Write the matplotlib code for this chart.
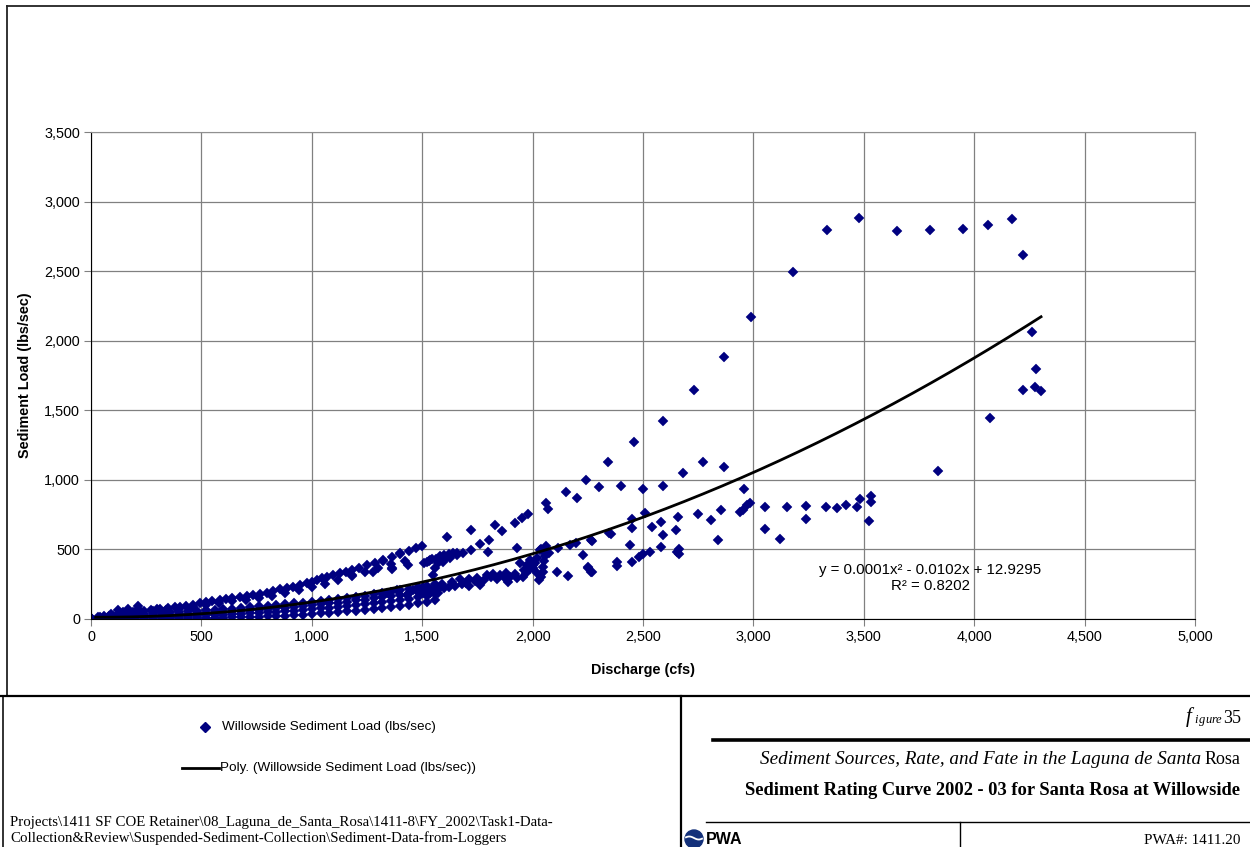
#!/usr/bin/env python
# -*- coding: utf-8 -*-

import numpy as np
import matplotlib
matplotlib.use('Agg')
import matplotlib.pyplot as plt
import matplotlib.ticker as ticker
from matplotlib.lines import Line2D
from matplotlib.patches import Ellipse

# dense recession band, read at fixed discharges (cfs) with 4 load levels (lbs/sec)
q_band = [0, 40, 80, 120, 160, 200, 240, 280, 320, 360, 400, 440, 480, 520, 560,
          600, 640, 680, 720, 760, 800, 840, 880, 920, 960, 1000, 1040, 1080, 1120,
          1160, 1200, 1240, 1280, 1320, 1360, 1400, 1440, 1480, 1520, 1560]
load_band_a = [0, 1, 2, 2, 3, 3, 4, 4, 5, 6, 6, 7, 7, 8, 9, 10, 11, 13, 14, 16, 18,
               21, 24, 28, 31, 35, 40, 45, 50, 56, 61, 66, 73, 80, 88, 96, 104, 113, 123, 133]
load_band_b = [3, 5, 7, 9, 10, 11, 13, 14, 16, 17, 19, 21, 23, 26, 28, 31, 34, 37, 41,
               44, 48, 52, 57, 61, 65, 70, 76, 81, 87, 93, 100, 106, 114, 121, 129, 138,
               147, 156, 166, 177]
load_band_c = [6, 10, 13, 16, 19, 22, 24, 27, 29, 32, 34, 37, 40, 43, 47, 50, 54, 58,
               62, 67, 72, 77, 82, 88, 93, 99, 105, 112, 118, 125, 133, 140, 148, 157,
               166, 176, 186, 196, 207, 219]
load_band_d = [10, 16, 22, 27, 31, 35, 38, 41, 44, 47, 50, 54, 58, 62, 66, 71, 75, 80,
               85, 90, 95, 101, 106, 112, 118, 124, 131, 138, 145, 152, 160, 168, 177,
               186, 196, 206, 217, 228, 240, 253]

# rising limb (upper branch)
q_rise = [30, 60, 90, 122, 146, 168, 190, 213, 214, 240, 270, 300, 313, 350, 380, 403,
          430, 460, 494, 520, 550, 584, 610, 640, 675, 705, 735, 765, 796, 826, 856, 886,
          916, 946, 977, 1000, 1022, 1045, 1068, 1098, 1128, 1155, 1181, 1215, 1249, 1285,
          1324, 1363, 1399, 1440, 1470, 1499,
          100, 160, 220, 280, 340, 400, 460, 520, 580, 640, 700, 760, 820, 880, 940,
          1000, 1060, 1120, 1180, 1240, 1300, 1360, 1420]
load_rise = [12, 22, 35, 65, 53, 72, 50, 93, 70, 60, 66, 72, 70, 78, 84, 89,
             96, 104, 113, 120, 128, 137, 144, 151, 160, 164, 170, 180, 189, 200, 213, 222,
             232, 246, 261, 268, 280, 292, 304, 316, 328, 340, 352, 370, 388, 404,
             424, 446, 467, 490, 508, 525,
             25, 40, 52, 58, 65, 75, 88, 100, 115, 128, 140, 150, 168, 185, 205,
             228, 255, 282, 310, 340, 365, 392, 420]

# scattered points above ~1,150 cfs
q_misc = [1181, 1277, 1322, 1363, 1363, 1399, 1436, 1535, 1562, 1594, 1612, 1626,
          1658, 1658, 1685, 1721, 1762, 1803, 1612, 1721, 1830, 1861, 1920, 1952, 1979,
          2061, 2070, 2151, 2201, 2242, 2301, 2342, 2400, 2459, 2500, 2591, 2591, 2681,
          2731, 2772, 2867, 2867, 2989, 3180, 3333, 3478, 3650, 3800, 3949, 4062, 4171,
          4221, 4262, 4280, 4221, 4276, 4303, 4071, 3836,
          2957, 3052, 3152, 3238, 3329, 3379, 3419, 3469, 3483, 3533, 3533, 3524, 3238,
          3052, 3120, 2840, 2853, 2808, 2749, 2659, 2650, 2663, 2663, 2582, 2591, 2582,
          2541, 2509, 2450, 2450, 2441, 2450, 2482, 2500, 2532, 2355, 2346, 2269, 2228,
          2269, 2251, 2382, 2382, 2953, 2971, 2985, 2939, 2654,
          2034, 1988, 1975, 2002, 2047, 2020, 2029, 1957, 1929, 1898, 1889, 1852, 1821,
          1794, 1762, 1748, 1712, 1712, 1671, 1635, 1590, 1567, 1549, 1558, 1571, 1504,
          1504, 1458, 1431, 1386, 1340, 1535, 1571, 2002, 1943, 1929, 2061, 2074, 2115,
          2169, 2197, 2264, 2110, 2160, 2251, 2264, 1798,
          2040, 2045, 2050, 2055, 2050, 2040, 2020, 2010, 1990, 1970, 1960, 1920, 1880,
          1870, 1840, 1810, 1780, 1740, 1700, 1680, 1650, 1620, 1600, 1580, 1540, 1520,
          1510, 1520, 1530, 1545, 1580, 1600, 1620, 1640]
load_misc = [316, 338, 417, 359, 367, 474, 388, 424, 431, 410, 446, 438,
             460, 474, 474, 496, 539, 568, 589, 640, 676, 632, 690, 726, 755,
             834, 790, 913, 870, 999, 949, 1128, 956, 1272, 934, 1423, 956, 1049,
             1646, 1128, 1092, 1883, 2170, 2494, 2796, 2882, 2789, 2796, 2803, 2832, 2875,
             2616, 2063, 1797, 1646, 1667, 1639, 1445, 1064,
             934, 805, 805, 812, 805, 798, 819, 805, 862, 884, 841, 704, 719,
             647, 575, 568, 783, 711, 755, 733, 640, 503, 467, 517, 604, 697,
             661, 762, 719, 654, 532, 410, 446, 467, 482, 611, 618, 561, 460,
             338, 374, 381, 410, 783, 819, 834, 769, 482,
             496, 424, 388, 367, 374, 331, 280, 302, 295, 302, 266, 316, 323,
             316, 244, 295, 287, 237, 287, 266, 252, 208, 316, 367, 403, 230,
             187, 208, 172, 208, 187, 187, 187, 388, 403, 510, 525, 474, 510,
             532, 546, 568, 338, 309, 367, 338, 482,
             300, 340, 420, 450, 480, 500, 440, 400, 360, 330, 350, 320, 330,
             300, 290, 300, 280, 270, 260, 250, 240, 230, 220, 230, 210, 200,
             400, 410, 420, 430, 452, 460, 468, 472]

# polynomial trendline (displayed coefficients are rounded)
trend_coef = [0.000119, -0.0102, 12.9295]
trend_range = [15, 4308]

W, H = 1250, 847


def fx(px):
    return px / W


def fy(py):
    return 1 - py / H


def main():
    fig = plt.figure(figsize=(12.5, 8.47), dpi=100)
    ax = fig.add_axes([fx(91), fy(619), fx(1195) - fx(91), fy(132) - fy(619)])

    navy = '#000080'
    mk = dict(ls='none', marker='D', ms=4.6, color=navy, mec=navy, mew=0.3)
    for yb in (load_band_a, load_band_b, load_band_c, load_band_d):
        ax.plot(q_band, yb, **mk)
    ax.plot(q_rise, load_rise, **mk)
    ax.plot(q_misc, load_misc, **mk)

    xt = np.linspace(trend_range[0], trend_range[1], 300)
    ax.plot(xt, np.polyval(trend_coef, xt), c='k', lw=2.0, solid_capstyle='butt')

    ax.set_xlim(0, 5000)
    ax.set_ylim(0, 3500)
    ax.set_xticks(np.arange(0, 5001, 500))
    ax.set_yticks(np.arange(0, 3501, 500))
    fmt = ticker.FuncFormatter(lambda v, p: f"{int(v):,}")
    ax.xaxis.set_major_formatter(fmt)
    ax.yaxis.set_major_formatter(fmt)
    ax.grid(color='#808080', lw=0.9)
    ax.set_axisbelow(True)
    ax.tick_params(direction='out', length=5, color='#808080', labelsize=10.4, pad=3)
    for lab in ax.get_xticklabels() + ax.get_yticklabels():
        lab.set_family('Liberation Sans')
    for s in ('top', 'right'):
        ax.spines[s].set_color('#909090')
    for s in ('left', 'bottom'):
        ax.spines[s].set_color('k')

    sans = 'Liberation Sans'
    serif = 'Liberation Serif'
    ax.set_xlabel('Discharge (cfs)', family=sans, weight='bold', size=10.4, labelpad=13.5)
    ax.set_ylabel('Sediment Load (lbs/sec)', family=sans, weight='bold', size=10.4, labelpad=8.5)

    ax.text(3800, 353, 'y = 0.0001x² - 0.0102x + 12.9295', family=sans, size=10.8,
            ha='center', va='center')
    ax.text(3800, 238, 'R² = 0.8202', family=sans, size=10.8, ha='center', va='center')

    # page frame
    def fline(xs, ys, lw, c='k'):
        fig.add_artist(Line2D([fx(x) for x in xs], [fy(y) for y in ys], lw=lw, color=c,
                              transform=fig.transFigure))

    fline([7, 1250], [6, 6], 1.3, '#222222')
    fline([7, 7], [6, 696], 1.3, '#222222')
    fline([2.5, 2.5], [696, 847], 1.3, '#222222')
    fline([0, 1250], [696, 696], 1.6)
    fline([681, 681], [696, 847], 1.6)
    fline([713, 1250], [740, 740], 2.6)
    fline([706, 1250], [822, 822], 1.0)
    fline([960, 960], [822, 847], 1.0)

    # legend
    fig.add_artist(Line2D([fx(205)], [fy(727)], marker='D', ms=4.6, color=navy,
                          transform=fig.transFigure))
    fig.text(fx(222), fy(727), 'Willowside Sediment Load (lbs/sec)', family=sans,
             size=9.7, va='center')
    fline([182, 219], [768, 768], 2.0)
    fig.text(fx(220), fy(768), 'Poly. (Willowside Sediment Load (lbs/sec))', family=sans,
             size=9.7, va='center')

    fig.text(fx(10), fy(822), 'Projects\\1411 SF COE Retainer\\08_Laguna_de_Santa_Rosa'
             '\\1411-8\\FY_2002\\Task1-Data-', family=serif, size=10.75, va='center')
    fig.text(fx(10), fy(838), 'Collection&Review\\Suspended-Sediment-Collection'
             '\\Sediment-Data-from-Loggers', family=serif, size=10.75, va='center')

    # title block: spaced "figure" mark and number
    fig.text(fx(1241), fy(718), '35', family=serif, size=13, ha='right', va='center')
    fig.text(fx(1186), fy(717), 'f', family=serif, style='italic', size=15,
             ha='left', va='center')
    for ch, px in zip('igure', [1194, 1199, 1205, 1211, 1216]):
        fig.text(fx(px), fy(720), ch, family=serif, style='italic', size=9,
                 ha='left', va='center')
    fig.text(fx(1240), fy(760), 'Rosa', family=serif, size=13, ha='right', va='center')
    fig.text(fx(1201), fy(760), 'Sediment Sources, Rate, and Fate in the Laguna de Santa',
             family=serif, style='italic', size=13.8, ha='right', va='center')
    fig.text(fx(1240), fy(790), 'Sediment Rating Curve 2002 - 03 for Santa Rosa at Willowside',
             family=serif, weight='bold', size=13.3, ha='right', va='center')
    fig.text(fx(1240), fy(840), 'PWA#: 1411.20', family=serif, size=10.9, ha='right',
             va='center')

    # PWA logo
    cx, cy, r = 694, 839, 9
    fig.add_artist(Ellipse((fx(cx), fy(cy)), 2 * r / W, 2 * r / H, color='#13307a',
                           transform=fig.transFigure))
    wx = np.linspace(cx - r + 1, cx + r - 1, 30)
    wy = cy - 1 + 1.5 * np.sin((wx - cx) / 3.0)
    fig.add_artist(Line2D([fx(v) for v in wx], [fy(v) for v in wy], color='white', lw=1.3,
                          transform=fig.transFigure))
    fig.text(fx(706), fy(839), 'PWA', family=sans, weight='bold', size=11.5, va='center')

    fig.savefig('out.png', dpi=100)
    return True


if __name__ == "__main__":

    main()
